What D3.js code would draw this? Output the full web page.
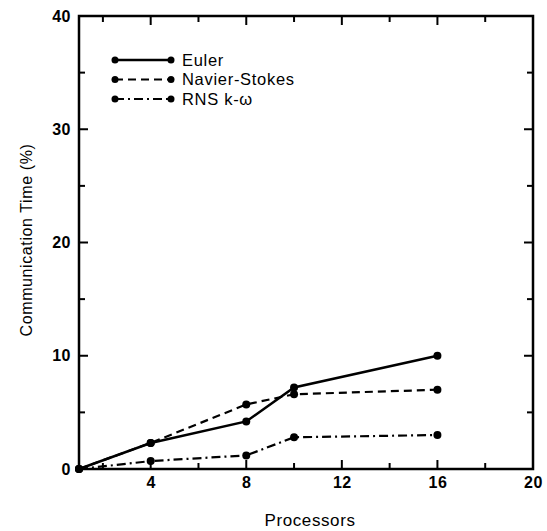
<!DOCTYPE html>
<html>
<head>
<meta charset="utf-8">
<script src="https://cdn.jsdelivr.net/npm/d3@7"></script>
<style>
  body { margin: 0; background: #fff; overflow: hidden; }
  svg { display: block; }
  text { font-family: "Liberation Sans", Arial, sans-serif; fill: #000; }
</style>
</head>
<body>
<svg width="547" height="531"></svg>
<script>
// processor counts and communication time (%) per solver
const processors = [1, 4, 8, 10, 16];
const euler = [0, 2.3, 4.2, 7.2, 10.0];
const navierStokes = [0, 2.3, 5.7, 6.6, 7.0];
const rnsKOmega = [0, 0.7, 1.2, 2.8, 3.0];
const seriesNames = ['Euler', 'Navier-Stokes', 'RNS k-\u03c9'];
const xMajorTicks = [4, 8, 12, 16, 20];
const xMinorTicks = [2, 6, 10, 14, 18];
const yMajorTicks = [0, 10, 20, 30, 40];
const yMinorTicks = [5, 15, 25, 35];

const svg = d3.select('svg');
const margin = { top: 16, right: 14, bottom: 62, left: 79 };
const width = +svg.attr('width');
const height = +svg.attr('height');
const innerWidth = width - margin.left - margin.right;
const innerHeight = height - margin.top - margin.bottom;

const xScale = d3.scaleLinear().domain([1, 20]).range([0, innerWidth]);
const yScale = d3.scaleLinear().domain([0, 40]).range([innerHeight, 0]);

const g = svg.append('g')
  .attr('transform', `translate(${margin.left},${margin.top})`);

// tick labels from d3 axes (tick lines drawn separately, pointing inward)
const labelAxis = (axis, values) => axis
  .tickValues(values)
  .tickSize(0)
  .tickPadding(8)
  .tickFormat(d3.format('d'));

const xAxisG = g.append('g')
  .attr('transform', `translate(0,${innerHeight})`)
  .call(labelAxis(d3.axisBottom(xScale), xMajorTicks));
const yAxisG = g.append('g')
  .call(labelAxis(d3.axisLeft(yScale), yMajorTicks));
[xAxisG, yAxisG].forEach(a => {
  a.select('.domain').remove();
  a.selectAll('text')
    .style('font-family', '"Liberation Sans", Arial, sans-serif')
    .style('font-size', '16px')
    .style('font-weight', 'bold')
    .style('letter-spacing', '0.5px');
});

const tickG = g.append('g')
  .attr('stroke', '#000')
  .attr('stroke-width', 2);

const xTicks = xMajorTicks.map(v => ({ v, len: 9 }))
  .concat(xMinorTicks.map(v => ({ v, len: 6 })));
const yTicks = yMajorTicks.map(v => ({ v, len: 9 }))
  .concat(yMinorTicks.map(v => ({ v, len: 6 })));

tickG.selectAll('.xb').data(xTicks).enter().append('line')
  .attr('class', 'xb')
  .attr('x1', d => xScale(d.v)).attr('x2', d => xScale(d.v))
  .attr('y1', innerHeight).attr('y2', d => innerHeight - d.len);
tickG.selectAll('.xt').data(xTicks).enter().append('line')
  .attr('class', 'xt')
  .attr('x1', d => xScale(d.v)).attr('x2', d => xScale(d.v))
  .attr('y1', 0).attr('y2', d => d.len);
tickG.selectAll('.yl').data(yTicks).enter().append('line')
  .attr('class', 'yl')
  .attr('y1', d => yScale(d.v)).attr('y2', d => yScale(d.v))
  .attr('x1', 0).attr('x2', d => d.len);
tickG.selectAll('.yr').data(yTicks).enter().append('line')
  .attr('class', 'yr')
  .attr('y1', d => yScale(d.v)).attr('y2', d => yScale(d.v))
  .attr('x1', innerWidth).attr('x2', d => innerWidth - d.len);

// frame
g.append('rect')
  .attr('width', innerWidth)
  .attr('height', innerHeight)
  .attr('fill', 'none')
  .attr('stroke', '#000')
  .attr('stroke-width', 2.5);

const series = [
  { name: seriesNames[0], values: euler, dash: null, w: 2.5 },
  { name: seriesNames[1], values: navierStokes, dash: '8,5', w: 2.2 },
  { name: seriesNames[2], values: rnsKOmega, dash: '9,4,2,4', w: 2.2 }
];

const line = d3.line()
  .x(d => xScale(d[0]))
  .y(d => yScale(d[1]));

series.forEach(s => {
  const pts = processors.map((p, i) => [p, s.values[i]]);
  g.append('path')
    .datum(pts)
    .attr('d', line)
    .attr('fill', 'none')
    .attr('stroke', '#000')
    .attr('stroke-width', s.w)
    .attr('stroke-dasharray', s.dash);
  g.selectAll(null)
    .data(pts)
    .enter().append('circle')
      .attr('cx', d => xScale(d[0]))
      .attr('cy', d => yScale(d[1]))
      .attr('r', 4)
      .attr('fill', '#000');
});

// legend
const legend = g.append('g').attr('transform', 'translate(36,44)');
series.forEach((s, i) => {
  const row = legend.append('g').attr('transform', `translate(0,${i * 19.5})`);
  row.append('line')
    .attr('x1', 0).attr('x2', 56)
    .attr('stroke', '#000')
    .attr('stroke-width', s.w)
    .attr('stroke-dasharray', s.dash);
  row.selectAll('circle').data([0, 56]).enter().append('circle')
    .attr('cx', d => d).attr('r', 3.5).attr('fill', '#000');
  row.append('text')
    .attr('x', 67)
    .attr('dy', '0.36em')
    .style('font-size', '16.5px')
    .style('letter-spacing', '0.7px')
    .text(s.name);
});

// axis titles
svg.append('text')
  .attr('transform', 'translate(32,240) rotate(-90)')
  .attr('text-anchor', 'middle')
  .style('font-size', '16px')
  .style('letter-spacing', '0.6px')
  .text('Communication Time (%)');

svg.append('text')
  .attr('x', 310)
  .attr('y', 526)
  .attr('text-anchor', 'middle')
  .style('font-size', '17px')
  .style('letter-spacing', '0.6px')
  .text('Processors');
</script>
</body>
</html>
